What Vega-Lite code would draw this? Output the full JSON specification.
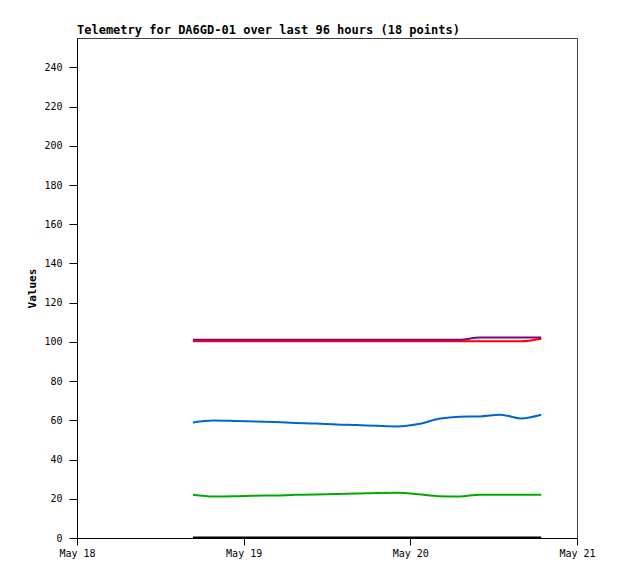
{
  "$schema": "https://vega.github.io/schema/vega-lite/v6.json",
  "autosize": {"type": "none"},
  "padding": {"left": 77, "top": 38, "right": 41, "bottom": 41},
  "width": 500,
  "height": 500,
  "background": "#ffffff",
  "title": {
    "text": "Telemetry for DA6GD-01 over last 96 hours (18 points)",
    "anchor": "start",
    "frame": "group",
    "font": "DejaVu Sans Mono",
    "fontSize": 12,
    "fontWeight": "bold",
    "color": "#000000",
    "offset": 1
  },
  "view": {"stroke": "#404040", "strokeWidth": 1},
  "data": {
    "values": [
      {"t": "2024-05-18T16:42", "black": 0.3, "green": 22.1, "blue": 58.9, "red": 100.3, "purple": 101.1},
      {"t": "2024-05-18T19:39", "black": 0.3, "green": 21.2, "blue": 59.9, "red": 100.3, "purple": 101.1},
      {"t": "2024-05-18T22:36", "black": 0.3, "green": 21.3, "blue": 59.7, "red": 100.3, "purple": 101.1},
      {"t": "2024-05-19T01:33", "black": 0.3, "green": 21.6, "blue": 59.4, "red": 100.3, "purple": 101.1},
      {"t": "2024-05-19T04:30", "black": 0.3, "green": 21.7, "blue": 59.1, "red": 100.3, "purple": 101.1},
      {"t": "2024-05-19T07:27", "black": 0.3, "green": 22.0, "blue": 58.7, "red": 100.3, "purple": 101.1},
      {"t": "2024-05-19T10:24", "black": 0.3, "green": 22.2, "blue": 58.4, "red": 100.3, "purple": 101.1},
      {"t": "2024-05-19T13:21", "black": 0.3, "green": 22.5, "blue": 57.9, "red": 100.3, "purple": 101.1},
      {"t": "2024-05-19T16:18", "black": 0.3, "green": 22.7, "blue": 57.6, "red": 100.3, "purple": 101.1},
      {"t": "2024-05-19T19:15", "black": 0.3, "green": 23.0, "blue": 57.2, "red": 100.3, "purple": 101.1},
      {"t": "2024-05-19T22:12", "black": 0.3, "green": 23.1, "blue": 56.9, "red": 100.3, "purple": 101.1},
      {"t": "2024-05-20T01:09", "black": 0.3, "green": 22.3, "blue": 58.1, "red": 100.3, "purple": 101.1},
      {"t": "2024-05-20T04:06", "black": 0.3, "green": 21.3, "blue": 60.8, "red": 100.3, "purple": 101.1},
      {"t": "2024-05-20T07:03", "black": 0.3, "green": 21.2, "blue": 61.9, "red": 100.3, "purple": 101.1},
      {"t": "2024-05-20T10:00", "black": 0.3, "green": 22.1, "blue": 62.0, "red": 100.3, "purple": 102.2},
      {"t": "2024-05-20T12:57", "black": 0.3, "green": 22.1, "blue": 62.9, "red": 100.3, "purple": 102.2},
      {"t": "2024-05-20T15:54", "black": 0.3, "green": 22.1, "blue": 61.0, "red": 100.3, "purple": 102.2},
      {"t": "2024-05-20T18:51", "black": 0.3, "green": 22.1, "blue": 62.9, "red": 101.6, "purple": 102.2}
    ]
  },
  "transform": [
    {"fold": ["black", "green", "blue", "red", "purple"], "as": ["series", "value"]}
  ],
  "mark": {"type": "line", "interpolate": "monotone", "strokeWidth": 2},
  "encoding": {
    "x": {
      "field": "t",
      "type": "temporal",
      "scale": {"domain": ["2024-05-18T00:00", "2024-05-21T00:00"], "nice": false},
      "axis": {
        "title": null,
        "format": "%b %d",
        "values": ["2024-05-18T00:00", "2024-05-19T00:00", "2024-05-20T00:00", "2024-05-21T00:00"],
        "grid": false,
        "domainColor": "#000000",
        "tickColor": "#000000",
        "tickSize": 7,
        "labelPadding": 3,
        "labelFont": "DejaVu Sans Mono",
        "labelFontSize": 10,
        "labelColor": "#000000",
        "labelFlush": false
      }
    },
    "y": {
      "field": "value",
      "type": "quantitative",
      "scale": {"domain": [0, 255], "nice": false, "zero": true},
      "axis": {
        "title": "Values",
        "titleFont": "DejaVu Sans Mono",
        "titleFontSize": 11,
        "titleFontWeight": "bold",
        "titleColor": "#000000",
        "titlePadding": 6,
        "values": [0, 20, 40, 60, 80, 100, 120, 140, 160, 180, 200, 220, 240],
        "grid": false,
        "domainColor": "#000000",
        "tickColor": "#000000",
        "tickSize": 8,
        "labelPadding": 7,
        "labelFont": "DejaVu Sans Mono",
        "labelFontSize": 10,
        "labelColor": "#000000"
      }
    },
    "color": {
      "field": "series",
      "type": "nominal",
      "scale": {
        "domain": ["black", "green", "blue", "red", "purple"],
        "range": ["#000000", "#00aa00", "#0066cc", "#ff0000", "#800080"]
      },
      "legend": null
    }
  }
}
